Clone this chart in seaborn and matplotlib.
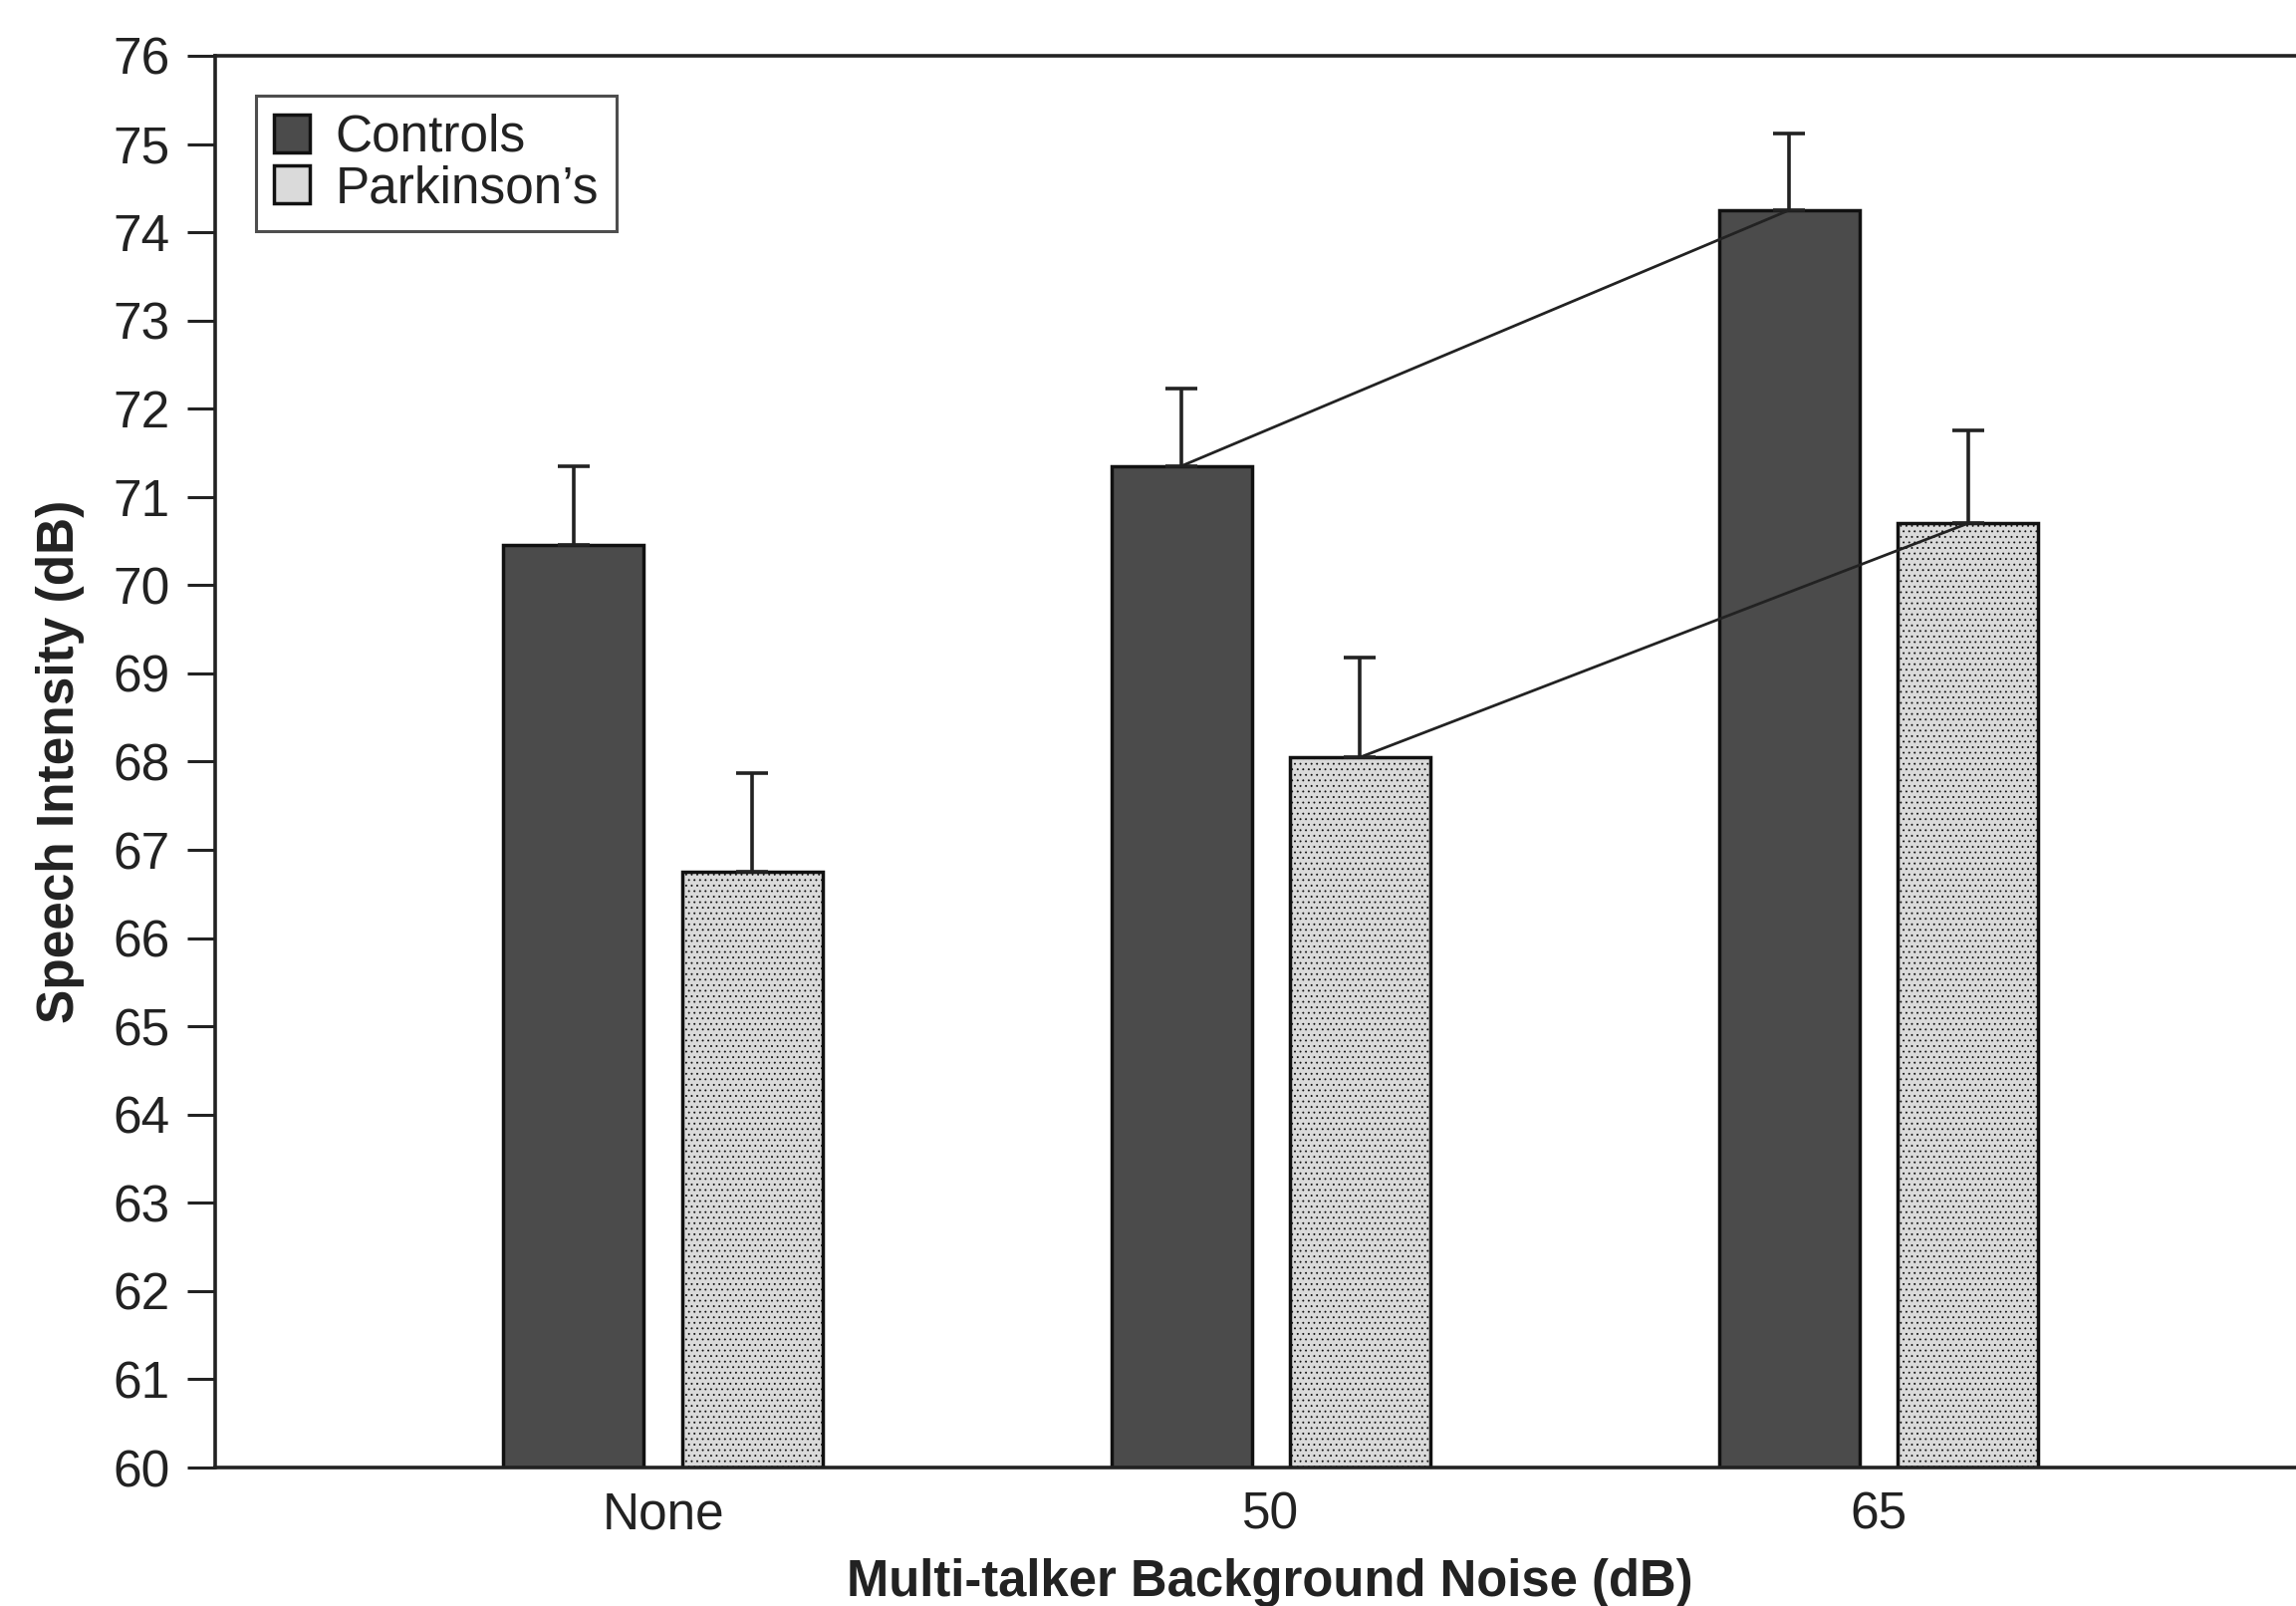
import matplotlib
matplotlib.use("Agg")
import matplotlib.pyplot as plt
import seaborn as sns
import pandas as pd
import numpy as np

# ---- data ----
categories = ["None", "50", "65"]
groups = ["Controls", "Parkinson’s"]
controls = [70.45, 71.35, 74.25]
parkinsons = [66.75, 68.05, 70.70]
controls_err = [0.90, 0.88, 0.87]
parkinsons_err = [1.12, 1.13, 1.05]
yticks = list(range(60, 77))

sns.set_style("ticks")
plt.rcParams["font.family"] = ["Liberation Sans", "DejaVu Sans"]
plt.rcParams["hatch.linewidth"] = 0.6

df = pd.DataFrame({
    "noise": categories * 2,
    "group": [groups[0]] * 3 + [groups[1]] * 3,
    "intensity": controls + parkinsons,
})

fig = plt.figure(figsize=(23.05, 16.12), dpi=100)
fig.patch.set_facecolor("white")
ax = fig.add_axes([0.0937, 0.0862, 0.9063, 0.8791])

palette = {groups[0]: "#4b4b4b", groups[1]: "#dadada"}
sns.barplot(data=df, x="noise", y="intensity", hue="group", order=categories,
            hue_order=groups, palette=palette, width=0.588, gap=0.214,
            errorbar=None, edgecolor="#111111", linewidth=2.5, saturation=1,
            ax=ax, zorder=2)

# light dotted texture on the Parkinson's bars
for p in ax.containers[1]:
    p.set_hatch("...")

errs = [controls_err, parkinsons_err]
centers = []
for cont, err in zip(ax.containers, errs):
    xs = [p.get_x() + p.get_width() / 2 for p in cont]
    ys = [p.get_y() + p.get_height() for p in cont]
    centers.append((xs, ys))
    ax.errorbar(xs, ys, yerr=[np.zeros(len(err)), err], fmt="none",
                ecolor="#222222", elinewidth=2.6, capsize=11.5, capthick=2.6,
                zorder=3)

# connecting lines between 50 and 65 dB bar tops
for xs, ys in centers:
    ax.plot(xs[1:], ys[1:], color="#222222", lw=2.0, zorder=4)

ax.set_ylim(60, 76)
ax.set_xlim(-0.737, 2.687)
ax.set_yticks(yticks)
ax.tick_params(axis="y", length=20, width=2.2, pad=13, labelsize=37,
               colors="#222222")
ax.tick_params(axis="x", length=0, pad=17, labelsize=37, colors="#222222")

for s in ["top", "left", "bottom"]:
    ax.spines[s].set_linewidth(2.6)
    ax.spines[s].set_color("#222222")
ax.spines["right"].set_visible(False)

ax.set_xlabel("Multi-talker Background Noise (dB)", fontsize=36.5,
              fontweight="bold", color="#222222")
ax.set_ylabel("Speech Intensity (dB)", fontsize=37, fontweight="bold",
              color="#222222")
ax.xaxis.set_label_coords(0.507, -0.064)
ax.yaxis.set_label_coords(-0.0625, 0.5)

leg = ax.legend(loc="upper left", bbox_to_anchor=(0.0196, 0.972),
                borderaxespad=0, fontsize=37, frameon=True, fancybox=False,
                handlelength=0.7, handleheight=0.75, handletextpad=0.5,
                labelspacing=0.05, borderpad=0.35, title=None)
leg.get_frame().set_edgecolor("#222222")
leg.get_frame().set_linewidth(2.2)
for t in leg.get_texts():
    t.set_color("#222222")

fig.savefig("out.png", dpi=100, facecolor="white")
